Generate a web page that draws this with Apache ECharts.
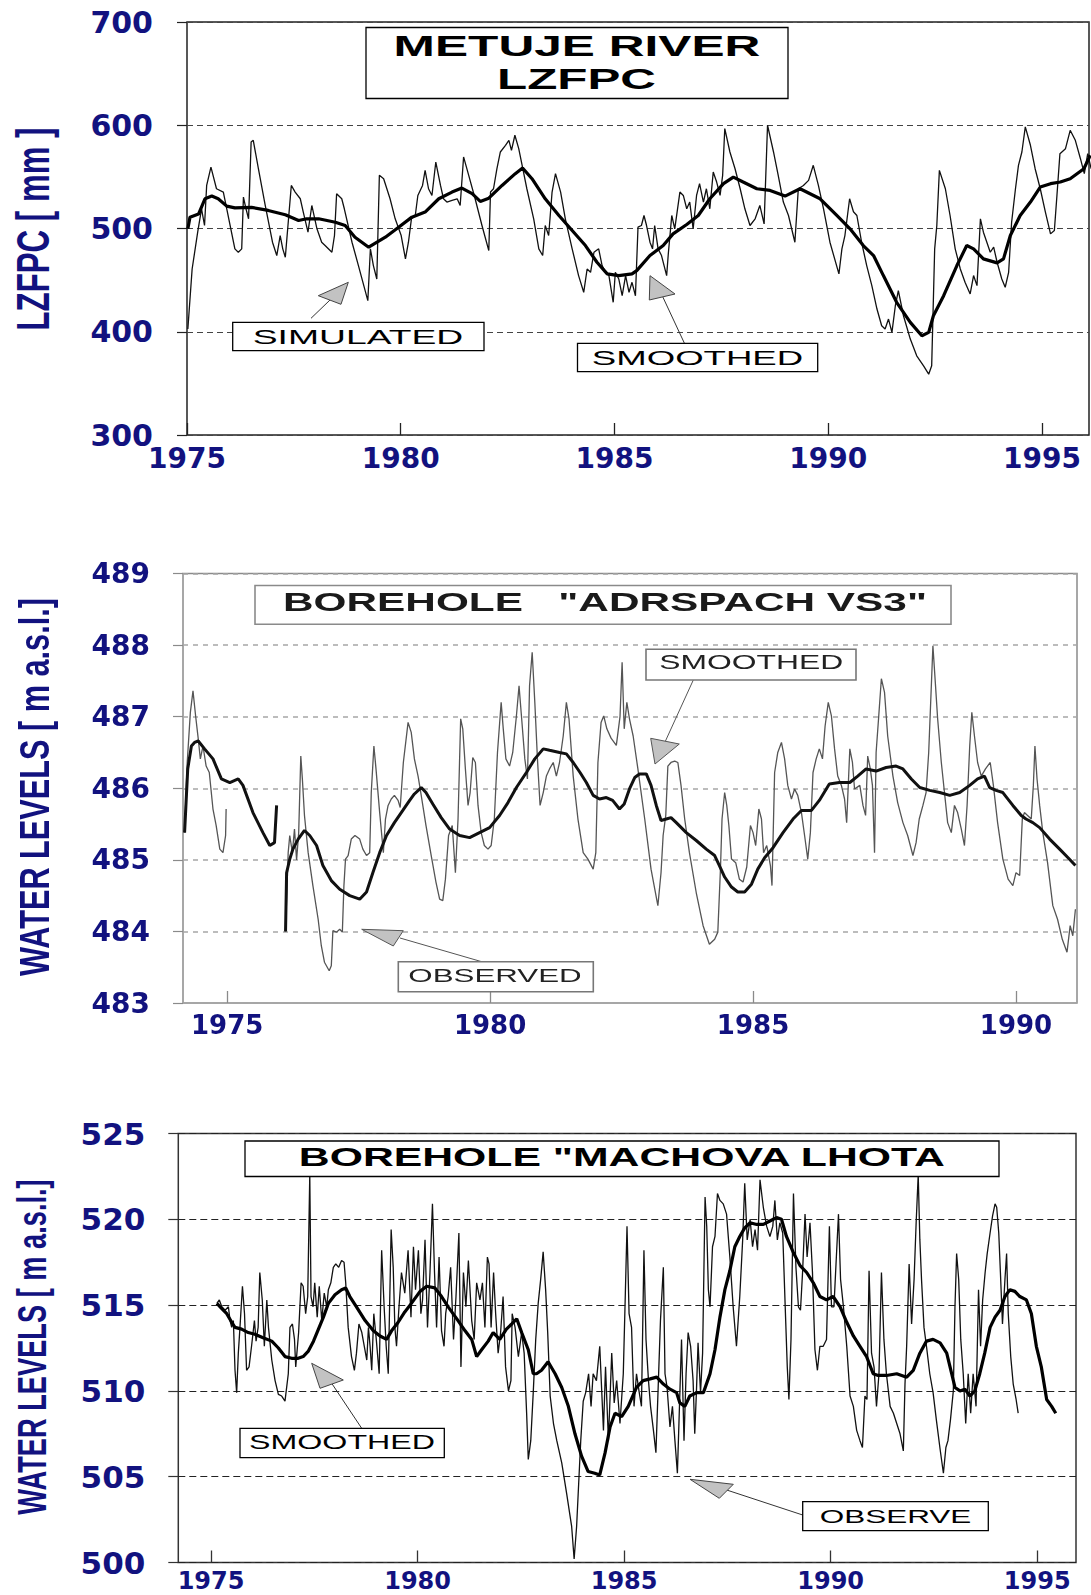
<!DOCTYPE html>
<html>
<head>
<meta charset="utf-8">
<script src="https://cdn.jsdelivr.net/npm/echarts@6/dist/echarts.min.js"></script>
<style>
  html, body { margin: 0; padding: 0; background: #fff; }
  #page { position: relative; width: 1091px; height: 1595px; overflow: hidden; background: #fff; }
  .panel { position: absolute; left: 0; width: 1091px; }
  #p1 { top: 0; height: 500px; }
  #p2 { top: 500px; height: 560px; filter: blur(0.6px); }
  #p3 { top: 1060px; height: 535px; }
</style>
</head>
<body>
<div id="page">
  <div id="p1" class="panel"></div>
  <div id="p2" class="panel"></div>
  <div id="p3" class="panel"></div>
</div>
<script>
// ---------- Metuje river: lower zone free primary storage (LZFPC), mm ----------
const metujeYTicks = [300, 400, 500, 600, 700];
const metujeXTicks = [1975, 1980, 1985, 1990, 1995];
const metujeSimulated = [
  [1975.02,402.6],[1975.12,460.8],[1975.25,496.4],[1975.34,519.1],[1975.41,502.9],[1975.46,541.7],[1975.56,559.5],[1975.69,538.5],[1975.85,535.3],[1975.93,519.1],
  [1976.12,480.3],[1976.20,477.0],[1976.28,480.3],[1976.32,530.4],[1976.38,519.1],[1976.44,509.4],[1976.50,583.8],[1976.55,585.4],[1976.67,557.9],[1976.83,522.3],
  [1977.00,486.7],[1977.10,473.8],[1977.18,493.2],[1977.24,480.3],[1977.30,472.2],[1977.44,541.7],[1977.53,535.3],[1977.65,528.8],[1977.72,515.9],[1977.83,496.4],
  [1977.92,522.3],[1978.04,499.7],[1978.15,486.7],[1978.23,483.5],[1978.39,477.0],[1978.45,493.2],[1978.50,533.7],[1978.62,528.8],[1978.68,519.1],[1978.86,486.7],
  [1979.01,464.1],[1979.23,430.1],[1979.29,480.3],[1979.36,464.1],[1979.44,451.1],[1979.50,551.5],[1979.60,548.2],[1979.75,528.8],[1979.87,509.4],[1980.01,493.2],
  [1980.11,470.6],[1980.18,486.7],[1980.25,509.4],[1980.34,512.6],[1980.40,532.0],[1980.51,541.7],[1980.57,556.3],[1980.65,538.5],[1980.73,532.0],[1980.82,564.4],
  [1980.93,541.7],[1981.00,528.8],[1981.08,525.6],[1981.20,527.2],[1981.32,528.8],[1981.39,522.3],[1981.47,569.3],[1981.59,551.5],[1981.74,528.8],[1981.90,502.9],
  [1982.06,478.6],[1982.10,535.3],[1982.17,538.5],[1982.25,557.9],[1982.33,574.1],[1982.45,580.6],[1982.53,585.4],[1982.59,575.7],[1982.67,590.3],[1982.76,577.3],
  [1982.84,561.2],[1982.95,538.5],[1983.11,509.4],[1983.23,480.3],[1983.32,473.8],[1983.38,502.9],[1983.46,493.2],[1983.54,535.3],[1983.62,553.1],[1983.74,535.3],
  [1983.85,509.4],[1984.01,480.3],[1984.16,454.4],[1984.28,438.2],[1984.36,460.8],[1984.44,457.6],[1984.52,477.0],[1984.63,480.3],[1984.71,464.1],[1984.79,457.6],
  [1984.87,454.4],[1984.97,428.5],[1985.02,457.6],[1985.10,451.1],[1985.18,434.9],[1985.26,454.4],[1985.34,438.2],[1985.41,447.9],[1985.49,434.9],[1985.55,501.3],
  [1985.63,502.9],[1985.69,512.6],[1985.75,502.9],[1985.83,486.7],[1985.89,480.3],[1985.94,502.9],[1986.02,480.3],[1986.10,473.8],[1986.22,454.4],[1986.26,476.0],
  [1986.34,512.6],[1986.41,499.7],[1986.53,535.3],[1986.61,532.0],[1986.69,519.1],[1986.76,525.6],[1986.84,499.7],[1986.92,532.0],[1986.99,543.4],[1987.08,525.6],
  [1987.15,538.5],[1987.23,519.1],[1987.31,554.7],[1987.39,545.0],[1987.47,532.0],[1987.53,551.5],[1987.58,596.8],[1987.70,574.1],[1987.82,557.9],[1987.94,538.5],
  [1988.05,519.1],[1988.17,502.9],[1988.29,509.4],[1988.40,522.3],[1988.50,504.5],[1988.58,600.0],[1988.72,574.1],[1988.83,551.5],[1988.95,525.6],[1989.07,512.6],
  [1989.22,486.7],[1989.30,538.5],[1989.42,541.7],[1989.54,546.6],[1989.65,561.2],[1989.77,541.7],[1989.89,519.1],[1990.04,486.7],[1990.25,456.0],[1990.32,480.3],
  [1990.39,493.2],[1990.50,528.8],[1990.59,516.2],[1990.67,512.6],[1990.78,486.7],[1990.90,464.1],[1991.02,444.7],[1991.14,422.0],[1991.25,405.8],[1991.33,402.6],
  [1991.41,412.3],[1991.49,399.4],[1991.57,425.2],[1991.64,439.8],[1991.76,415.5],[1991.92,392.9],[1992.07,376.7],[1992.23,367.0],[1992.35,358.9],[1992.42,367.0],
  [1992.49,480.3],[1992.54,502.9],[1992.60,556.3],[1992.74,538.5],[1992.85,512.6],[1992.97,480.3],[1993.09,460.8],[1993.20,447.9],[1993.32,436.6],[1993.40,454.4],
  [1993.48,444.7],[1993.56,509.4],[1993.63,496.4],[1993.71,486.7],[1993.79,477.0],[1993.87,481.9],[1993.95,467.3],[1994.06,451.1],[1994.14,443.1],[1994.22,457.6],
  [1994.29,506.1],[1994.38,538.5],[1994.45,561.2],[1994.53,574.1],[1994.61,598.4],[1994.73,580.6],[1994.84,557.9],[1994.96,538.5],[1995.08,515.9],[1995.20,494.8],
  [1995.29,498.1],[1995.35,532.0],[1995.42,572.5],[1995.55,577.3],[1995.66,595.1],[1995.78,585.4],[1995.90,567.6],[1995.99,553.1],[1996.07,572.5],[1996.15,557.9]
];
const metujeSmoothed = [
  [1975.02,499.7],[1975.07,511.0],[1975.27,514.0],[1975.42,528.8],[1975.58,531.4],[1975.73,528.8],[1975.93,521.7],[1976.12,520.0],[1976.51,520.4],[1976.90,517.5],
  [1977.30,513.3],[1977.61,507.8],[1977.80,509.4],[1978.08,509.4],[1978.47,506.1],[1978.70,502.9],[1978.93,491.6],[1979.25,481.9],[1979.64,491.6],[1979.95,501.3],
  [1980.26,511.0],[1980.57,515.9],[1980.89,528.8],[1981.20,535.3],[1981.43,539.2],[1981.67,533.7],[1981.86,526.2],[1982.06,529.4],[1982.37,541.7],[1982.68,553.1],
  [1982.85,558.6],[1983.07,548.2],[1983.38,528.8],[1983.70,512.6],[1984.01,498.1],[1984.32,483.5],[1984.59,467.3],[1984.83,456.0],[1985.10,454.4],[1985.41,456.0],
  [1985.52,459.2],[1985.83,473.8],[1986.14,483.5],[1986.37,494.8],[1986.69,503.9],[1986.96,512.6],[1987.23,528.8],[1987.55,543.4],[1987.78,549.8],[1988.01,545.0],
  [1988.33,538.5],[1988.64,536.9],[1988.99,531.4],[1989.34,538.5],[1989.81,528.8],[1990.20,512.6],[1990.51,499.7],[1990.82,483.5],[1991.06,473.8],[1991.29,454.4],
  [1991.60,428.5],[1991.92,409.1],[1992.19,396.1],[1992.35,399.4],[1992.46,415.5],[1992.70,434.9],[1993.01,464.1],[1993.24,483.5],[1993.40,480.3],[1993.63,470.6],
  [1993.95,466.7],[1994.10,470.6],[1994.26,493.2],[1994.49,512.6],[1994.73,525.6],[1994.96,540.1],[1995.20,543.4],[1995.43,545.0],[1995.66,548.2],[1995.98,557.9],
  [1996.13,570.9]
];

// ---------- Borehole Adrspach VS3: water levels, m a.s.l. ----------
const adrYTicks = [483, 484, 485, 486, 487, 488, 489];
const adrXTicks = [1975, 1980, 1985, 1990];
const adrObservedEarly = [
  [1974.19,485.38],[1974.24,486.36],[1974.30,487.06],[1974.35,487.36],[1974.40,487.01],[1974.45,486.69],[1974.49,486.41],[1974.54,486.59],[1974.60,486.31],[1974.66,486.22],
  [1974.73,485.71],[1974.79,485.48],[1974.86,485.15],[1974.92,485.10],[1974.97,485.34],[1974.98,485.71]
];
const adrSmoothedEarly = [
  [1974.19,485.38],[1974.25,486.27],[1974.32,486.59],[1974.38,486.64],[1974.45,486.66],[1974.57,486.55],[1974.73,486.41],[1974.89,486.13],[1975.05,486.08],[1975.21,486.13],
  [1975.30,486.04],[1975.49,485.66],[1975.68,485.38],[1975.81,485.20],[1975.90,485.24],[1975.94,485.76]
];
const adrObservedLate = [
  [1976.11,484.00],[1976.16,485.10],[1976.19,485.34],[1976.24,485.10],[1976.28,485.43],[1976.32,485.00],[1976.36,485.38],[1976.40,486.45],[1976.43,486.13],[1976.47,485.62],
  [1976.54,485.10],[1976.63,484.64],[1976.73,484.17],[1976.79,483.80],[1976.85,483.57],[1976.94,483.45],[1976.98,483.52],[1977.01,484.01],[1977.08,483.99],[1977.14,484.03],
  [1977.19,483.99],[1977.22,484.64],[1977.25,485.01],[1977.30,485.06],[1977.36,485.29],[1977.43,485.34],[1977.52,485.29],[1977.58,485.15],[1977.65,485.06],[1977.71,485.10],
  [1977.74,485.94],[1977.79,486.59],[1977.83,486.27],[1977.90,485.66],[1977.97,485.10],[1978.01,485.57],[1978.06,485.76],[1978.12,485.85],[1978.18,485.90],[1978.25,485.83],
  [1978.29,485.73],[1978.35,486.36],[1978.44,486.92],[1978.50,486.78],[1978.56,486.41],[1978.63,486.17],[1978.69,485.90],[1978.78,485.48],[1978.88,485.06],[1978.97,484.69],
  [1979.04,484.45],[1979.10,484.43],[1979.15,484.73],[1979.21,485.34],[1979.28,485.48],[1979.34,484.82],[1979.39,485.57],[1979.44,486.97],[1979.48,486.83],[1979.53,486.27],
  [1979.58,485.76],[1979.62,485.94],[1979.67,486.43],[1979.72,486.36],[1979.77,485.76],[1979.83,485.38],[1979.89,485.20],[1979.96,485.15],[1980.02,485.20],[1980.08,485.57],
  [1980.14,486.50],[1980.21,487.20],[1980.25,486.83],[1980.30,486.41],[1980.37,486.31],[1980.43,486.50],[1980.50,487.01],[1980.55,487.43],[1980.60,486.97],[1980.66,486.41],
  [1980.71,486.13],[1980.75,487.43],[1980.80,487.90],[1980.85,487.20],[1980.90,486.41],[1980.95,485.76],[1981.01,485.94],[1981.07,486.17],[1981.13,486.27],[1981.20,486.36],
  [1981.26,486.17],[1981.32,486.36],[1981.39,486.73],[1981.45,487.20],[1981.50,486.97],[1981.58,486.17],[1981.67,485.57],[1981.77,485.10],[1981.86,485.01],[1981.96,484.87],
  [1982.01,485.10],[1982.05,486.36],[1982.11,486.92],[1982.16,487.01],[1982.22,486.83],[1982.30,486.70],[1982.40,486.60],[1982.47,487.00],[1982.51,487.76],[1982.55,486.83],
  [1982.60,487.20],[1982.65,486.97],[1982.72,486.73],[1982.81,486.27],[1982.94,485.57],[1983.06,484.87],[1983.19,484.36],[1983.25,484.82],[1983.29,485.34],[1983.34,485.62],
  [1983.38,486.31],[1983.44,486.36],[1983.51,486.38],[1983.57,486.36],[1983.63,486.04],[1983.70,485.57],[1983.79,485.10],[1983.92,484.54],[1984.05,484.08],[1984.17,483.82],
  [1984.27,483.89],[1984.33,483.99],[1984.38,484.87],[1984.41,485.57],[1984.46,485.94],[1984.50,485.76],[1984.54,485.48],[1984.59,485.01],[1984.67,484.96],[1984.74,484.73],
  [1984.81,484.69],[1984.88,484.90],[1984.95,485.48],[1985.00,485.38],[1985.05,485.20],[1985.11,485.71],[1985.16,485.57],[1985.20,485.10],[1985.26,485.20],[1985.33,484.92],
  [1985.36,484.64],[1985.41,486.22],[1985.47,486.50],[1985.54,486.64],[1985.60,486.41],[1985.66,486.04],[1985.73,485.85],[1985.79,485.99],[1985.85,485.90],[1985.92,485.66],
  [1985.98,485.34],[1986.04,485.01],[1986.09,485.38],[1986.14,486.22],[1986.20,486.41],[1986.26,486.55],[1986.32,486.41],[1986.37,486.87],[1986.43,487.20],[1986.49,487.01],
  [1986.55,486.55],[1986.61,486.17],[1986.68,486.04],[1986.74,485.85],[1986.78,485.52],[1986.84,486.55],[1986.89,486.36],[1986.93,485.99],[1987.03,486.04],[1987.09,485.76],
  [1987.14,485.62],[1987.18,486.45],[1987.23,486.27],[1987.27,486.04],[1987.31,485.10],[1987.34,486.50],[1987.39,487.01],[1987.44,487.53],[1987.50,487.34],[1987.56,486.73],
  [1987.66,486.17],[1987.75,485.80],[1987.85,485.52],[1987.94,485.34],[1988.04,485.06],[1988.10,485.24],[1988.16,485.57],[1988.23,485.76],[1988.29,485.94],[1988.34,486.50],
  [1988.39,487.43],[1988.42,487.99],[1988.47,487.43],[1988.51,486.97],[1988.58,486.36],[1988.64,485.94],[1988.70,485.52],[1988.77,485.38],[1988.83,485.76],[1988.89,485.66],
  [1988.96,485.43],[1989.02,485.20],[1989.07,485.76],[1989.12,486.59],[1989.16,487.06],[1989.21,486.73],[1989.27,486.36],[1989.34,486.17],[1989.42,486.27],[1989.51,486.36],
  [1989.57,486.04],[1989.65,485.52],[1989.75,485.01],[1989.85,484.73],[1989.94,484.64],[1990.00,484.82],[1990.07,484.78],[1990.12,485.57],[1990.16,485.66],[1990.22,485.62],
  [1990.29,485.57],[1990.33,486.04],[1990.36,486.59],[1990.40,486.13],[1990.45,485.76],[1990.51,485.38],[1990.60,484.96],[1990.70,484.36],[1990.79,484.17],[1990.88,483.89],
  [1990.97,483.71],[1991.03,484.08],[1991.08,483.94],[1991.13,484.31]
];
const adrSmoothedLate = [
  [1976.11,484.00],[1976.13,484.82],[1976.19,485.01],[1976.25,485.15],[1976.35,485.29],[1976.47,485.41],[1976.57,485.34],[1976.70,485.20],[1976.82,484.92],[1976.98,484.71],
  [1977.14,484.59],[1977.33,484.50],[1977.52,484.45],[1977.65,484.55],[1977.77,484.82],[1977.90,485.10],[1978.03,485.34],[1978.18,485.52],[1978.34,485.69],[1978.47,485.83],
  [1978.56,485.92],[1978.69,486.01],[1978.78,485.94],[1978.91,485.78],[1979.07,485.59],[1979.23,485.43],[1979.42,485.34],[1979.61,485.31],[1979.80,485.38],[1979.99,485.45],
  [1980.18,485.62],[1980.34,485.80],[1980.50,486.01],[1980.69,486.22],[1980.85,486.41],[1981.01,486.55],[1981.13,486.53],[1981.32,486.50],[1981.45,486.48],[1981.58,486.36],
  [1981.71,486.22],[1981.83,486.08],[1981.96,485.90],[1982.08,485.85],[1982.21,485.87],[1982.33,485.83],[1982.46,485.71],[1982.55,485.78],[1982.65,485.99],[1982.75,486.15],
  [1982.84,486.20],[1982.97,486.20],[1983.06,486.04],[1983.16,485.76],[1983.25,485.55],[1983.35,485.57],[1983.44,485.59],[1983.54,485.52],[1983.73,485.38],[1983.92,485.27],
  [1984.11,485.15],[1984.27,485.06],[1984.36,484.92],[1984.46,484.76],[1984.59,484.62],[1984.71,484.55],[1984.84,484.55],[1984.97,484.66],[1985.09,484.87],[1985.22,485.03],
  [1985.38,485.17],[1985.57,485.38],[1985.76,485.57],[1985.92,485.69],[1986.11,485.69],[1986.26,485.83],[1986.45,486.06],[1986.64,486.08],[1986.84,486.08],[1986.99,486.17],
  [1987.15,486.27],[1987.34,486.24],[1987.53,486.29],[1987.72,486.31],[1987.85,486.27],[1988.01,486.13],[1988.17,486.01],[1988.36,485.97],[1988.55,485.94],[1988.74,485.90],
  [1988.93,485.94],[1989.12,486.04],[1989.27,486.13],[1989.40,486.17],[1989.50,486.01],[1989.62,485.97],[1989.75,485.94],[1989.94,485.76],[1990.10,485.62],[1990.19,485.57],
  [1990.32,485.52],[1990.45,485.45],[1990.64,485.29],[1990.83,485.15],[1990.99,485.03],[1991.13,484.92]
];

// ---------- Borehole Machova Lhota: water levels, m a.s.l. ----------
const machYTicks = [500, 505, 510, 515, 520, 525];
const machXTicks = [1975, 1980, 1985, 1990, 1995];
const machObserved = [
  [1975.14,515.1],[1975.20,515.3],[1975.26,514.9],[1975.34,514.7],[1975.42,514.9],[1975.46,514.1],[1975.50,513.7],[1975.54,514.1],[1975.58,511.2],[1975.62,509.9],
  [1975.66,512.2],[1975.70,513.7],[1975.76,516.1],[1975.81,514.5],[1975.86,511.2],[1975.92,511.4],[1975.98,512.6],[1976.05,514.1],[1976.09,512.9],[1976.14,513.7],
  [1976.18,516.9],[1976.24,515.3],[1976.29,512.6],[1976.35,515.3],[1976.39,513.7],[1976.47,511.8],[1976.55,510.6],[1976.63,509.8],[1976.71,509.7],[1976.79,509.4],
  [1976.87,511.0],[1976.91,513.7],[1976.97,513.9],[1977.02,513.0],[1977.05,511.4],[1977.12,513.4],[1977.18,516.3],[1977.23,516.1],[1977.29,514.5],[1977.34,515.5],
  [1977.39,522.6],[1977.42,515.5],[1977.47,514.9],[1977.51,516.3],[1977.57,514.3],[1977.62,516.1],[1977.68,514.1],[1977.74,515.7],[1977.80,514.9],[1977.84,515.9],
  [1977.90,516.3],[1977.96,517.2],[1978.02,517.4],[1978.09,517.2],[1978.16,517.6],[1978.22,517.5],[1978.26,516.3],[1978.32,513.7],[1978.40,512.0],[1978.47,511.2],
  [1978.52,512.2],[1978.58,513.9],[1978.65,513.4],[1978.71,512.6],[1978.77,511.8],[1978.81,513.7],[1978.85,512.6],[1978.89,511.2],[1978.94,514.5],[1979.00,513.0],
  [1979.07,511.0],[1979.13,518.2],[1979.19,514.9],[1979.24,512.6],[1979.29,511.0],[1979.36,519.4],[1979.41,517.2],[1979.45,513.7],[1979.49,512.6],[1979.55,514.9],
  [1979.61,516.9],[1979.69,515.7],[1979.77,518.2],[1979.84,514.3],[1979.90,518.4],[1979.95,515.9],[1980.02,518.2],[1980.08,514.5],[1980.12,515.3],[1980.18,518.8],
  [1980.24,513.7],[1980.30,516.9],[1980.36,520.9],[1980.41,516.9],[1980.46,513.7],[1980.52,517.8],[1980.58,513.5],[1980.64,512.6],[1980.68,514.5],[1980.74,515.5],
  [1980.80,517.2],[1980.87,513.0],[1980.93,515.5],[1981.00,519.2],[1981.05,511.4],[1981.11,516.9],[1981.17,514.9],[1981.23,517.6],[1981.31,514.1],[1981.37,513.0],
  [1981.43,516.3],[1981.51,515.3],[1981.57,516.3],[1981.63,513.7],[1981.69,517.8],[1981.73,517.4],[1981.78,513.7],[1981.84,516.9],[1981.89,514.5],[1981.95,512.2],
  [1982.01,513.4],[1982.07,515.5],[1982.13,511.4],[1982.20,510.0],[1982.26,510.6],[1982.29,514.5],[1982.36,513.7],[1982.44,512.0],[1982.52,513.4],[1982.58,512.2],
  [1982.64,508.7],[1982.68,506.0],[1982.74,507.1],[1982.80,509.9],[1982.86,513.0],[1982.92,515.1],[1982.98,516.5],[1983.04,518.1],[1983.10,515.9],[1983.15,513.4],
  [1983.21,509.7],[1983.29,508.1],[1983.37,507.1],[1983.49,505.8],[1983.61,504.0],[1983.73,502.1],[1983.79,500.2],[1983.85,502.1],[1983.90,504.6],[1983.95,507.1],
  [1984.01,509.4],[1984.07,509.9],[1984.14,511.0],[1984.20,509.1],[1984.25,511.0],[1984.33,510.6],[1984.41,512.6],[1984.50,507.7],[1984.55,511.4],[1984.62,507.1],
  [1984.70,512.2],[1984.76,509.3],[1984.82,510.6],[1984.90,508.1],[1984.98,511.0],[1985.03,515.7],[1985.07,519.6],[1985.12,514.5],[1985.18,513.7],[1985.24,509.1],
  [1985.30,511.0],[1985.36,510.0],[1985.42,509.1],[1985.48,518.2],[1985.53,513.0],[1985.59,510.6],[1985.64,509.1],[1985.71,507.7],[1985.77,506.4],[1985.83,510.6],
  [1985.88,514.1],[1985.95,517.2],[1985.99,511.0],[1986.04,510.2],[1986.11,507.9],[1986.17,509.1],[1986.23,507.1],[1986.29,505.2],[1986.34,509.1],[1986.39,513.0],
  [1986.45,507.1],[1986.50,511.0],[1986.55,513.4],[1986.61,512.6],[1986.67,510.6],[1986.71,507.5],[1986.75,509.9],[1986.79,512.8],[1986.85,509.9],[1986.90,512.2],
  [1986.96,521.3],[1987.00,519.6],[1987.04,515.9],[1987.08,514.9],[1987.14,518.4],[1987.20,519.0],[1987.26,521.5],[1987.32,521.1],[1987.40,520.9],[1987.48,520.3],
  [1987.56,517.8],[1987.64,514.9],[1987.72,512.6],[1987.80,515.5],[1987.87,518.8],[1987.92,522.1],[1987.98,518.8],[1988.05,520.0],[1988.11,518.4],[1988.17,519.4],
  [1988.23,518.2],[1988.29,522.3],[1988.37,520.7],[1988.45,519.6],[1988.53,519.0],[1988.60,519.6],[1988.65,521.1],[1988.71,518.8],[1988.77,519.8],[1988.84,519.2],
  [1988.90,514.9],[1988.95,511.4],[1988.99,509.5],[1989.04,513.0],[1989.10,521.5],[1989.16,517.2],[1989.22,514.9],[1989.27,514.7],[1989.32,516.9],[1989.38,520.3],
  [1989.43,517.8],[1989.50,519.8],[1989.56,516.9],[1989.62,512.4],[1989.68,511.2],[1989.74,512.6],[1989.82,512.6],[1989.90,513.0],[1989.97,519.6],[1990.02,514.9],
  [1990.08,514.9],[1990.13,517.4],[1990.19,520.3],[1990.24,516.5],[1990.31,514.9],[1990.39,512.6],[1990.47,509.7],[1990.55,509.1],[1990.63,507.7],[1990.71,507.1],
  [1990.77,506.7],[1990.83,509.7],[1990.88,509.5],[1990.93,517.0],[1990.99,512.2],[1991.05,511.4],[1991.11,509.1],[1991.17,511.0],[1991.23,516.9],[1991.29,513.0],
  [1991.35,511.0],[1991.44,509.1],[1991.52,508.7],[1991.60,508.1],[1991.68,507.5],[1991.76,506.5],[1991.80,510.4],[1991.84,512.6],[1991.90,517.4],[1991.96,513.9],
  [1992.02,516.5],[1992.07,519.8],[1992.12,522.6],[1992.16,518.8],[1992.20,516.5],[1992.26,513.7],[1992.32,512.6],[1992.40,511.0],[1992.48,509.9],[1992.56,508.3],
  [1992.65,506.6],[1992.73,505.2],[1992.79,506.7],[1992.84,507.1],[1992.90,508.3],[1992.97,510.0],[1993.01,514.9],[1993.05,518.0],[1993.10,516.5],[1993.15,513.0],
  [1993.21,511.0],[1993.27,508.1],[1993.33,511.0],[1993.39,508.7],[1993.45,511.0],[1993.52,509.1],[1993.58,515.9],[1993.63,512.6],[1993.68,515.3],[1993.74,516.9],
  [1993.79,518.0],[1993.86,519.2],[1993.92,520.2],[1993.98,520.9],[1994.02,520.7],[1994.07,519.2],[1994.11,516.9],[1994.16,513.9],[1994.22,516.5],[1994.26,518.0],
  [1994.30,514.5],[1994.36,512.0],[1994.42,510.4],[1994.49,509.5],[1994.54,508.7]
];
const machSmoothed = [
  [1975.14,515.1],[1975.26,514.8],[1975.38,514.5],[1975.50,514.0],[1975.58,513.7],[1975.74,513.6],[1975.90,513.4],[1976.06,513.3],[1976.26,513.1],[1976.47,512.9],
  [1976.63,512.5],[1976.79,512.0],[1976.95,511.9],[1977.11,511.9],[1977.23,512.0],[1977.35,512.3],[1977.48,512.9],[1977.60,513.6],[1977.72,514.3],[1977.84,515.1],
  [1978.00,515.6],[1978.16,515.9],[1978.26,516.0],[1978.36,515.5],[1978.52,514.9],[1978.73,514.1],[1978.93,513.5],[1979.09,513.2],[1979.25,513.0],[1979.37,513.5],
  [1979.53,514.0],[1979.69,514.6],[1979.85,515.1],[1980.06,515.8],[1980.22,516.1],[1980.42,516.0],[1980.58,515.5],[1980.74,514.9],[1980.95,514.2],[1981.15,513.5],
  [1981.31,513.0],[1981.43,512.0],[1981.55,512.4],[1981.71,512.9],[1981.83,513.4],[1981.99,513.0],[1982.15,513.6],[1982.28,513.9],[1982.40,514.2],[1982.52,513.4],
  [1982.68,512.4],[1982.80,511.0],[1982.88,511.0],[1983.00,511.2],[1983.16,511.7],[1983.33,511.0],[1983.49,510.2],[1983.65,509.1],[1983.81,507.5],[1983.97,506.2],
  [1984.13,505.3],[1984.29,505.2],[1984.41,505.1],[1984.54,506.4],[1984.66,507.9],[1984.78,508.7],[1984.94,508.5],[1985.10,509.1],[1985.30,510.2],[1985.46,510.6],
  [1985.63,510.7],[1985.79,510.8],[1985.95,510.4],[1986.11,510.1],[1986.27,509.9],[1986.35,509.3],[1986.47,509.1],[1986.59,509.7],[1986.76,509.9],[1986.92,509.9],
  [1987.08,511.0],[1987.20,512.4],[1987.32,514.3],[1987.44,515.9],[1987.56,517.0],[1987.68,518.4],[1987.80,519.0],[1987.92,519.5],[1988.05,519.8],[1988.21,519.7],
  [1988.37,519.7],[1988.53,519.9],[1988.69,520.1],[1988.81,520.0],[1988.93,519.0],[1989.09,518.1],[1989.26,517.3],[1989.42,516.9],[1989.58,516.3],[1989.74,515.5],
  [1989.90,515.3],[1990.06,515.5],[1990.23,514.9],[1990.39,514.0],[1990.55,513.2],[1990.71,512.6],[1990.87,512.0],[1991.03,511.0],[1991.15,510.9],[1991.35,510.9],
  [1991.60,511.0],[1991.84,510.8],[1992.00,511.2],[1992.16,512.2],[1992.32,512.9],[1992.48,513.0],[1992.65,512.8],[1992.81,512.2],[1992.93,511.0],[1993.01,510.2],
  [1993.13,510.0],[1993.25,510.1],[1993.37,509.7],[1993.49,510.0],[1993.61,511.0],[1993.73,512.2],[1993.86,513.7],[1993.98,514.3],[1994.10,514.7],[1994.22,515.5],
  [1994.34,515.9],[1994.46,515.8],[1994.58,515.5],[1994.74,515.3],[1994.86,514.5],[1994.98,512.6],[1995.10,511.4],[1995.23,509.5],[1995.35,509.1],[1995.45,508.7]
];

// ---------- drawing helpers ----------
const NAVY = '#12127f';
const measureCtx = document.createElement('canvas').getContext('2d');
function textWidth(str, font) { measureCtx.font = font; return measureCtx.measureText(str).width; }

function textStyle(str, font, fill) {
  return { text: str, font: font, fill: fill, align: 'center', verticalAlign: 'middle',
           textAlign: 'center', textVerticalAlign: 'middle' };
}
// horizontal caption stretched to the requested width
function wideText(str, cx, cy, font, width, fill) {
  return { type: 'text', x: cx, y: cy, z: 102, scaleX: width / textWidth(str, font),
           style: textStyle(str, font, fill || '#000') };
}
function frame(x, y, w, h, stroke, lw) {
  return { type: 'rect', z: 100, shape: { x: x, y: y, width: w, height: h },
           style: { fill: '#fff', stroke: stroke || '#000', lineWidth: lw || 1.3 } };
}
function pointer(from, to, tri, stroke) {
  return [
    { type: 'line', z: 100, shape: { x1: from[0], y1: from[1], x2: to[0], y2: to[1] },
      style: { stroke: stroke || '#333', lineWidth: 1 } },
    { type: 'polygon', z: 101, shape: { points: tri },
      style: { fill: '#c2c2c2', stroke: stroke || '#444', lineWidth: 1 } }
  ];
}
// rotated axis title: length along the axis, thickness across it
function axisTitle(str, cx, cy, length, thickness) {
  const font = 'bold 30px "Liberation Sans", Arial, sans-serif';
  return { type: 'text', x: cx, y: cy, z: 102, rotation: Math.PI / 2,
           scaleX: length / textWidth(str, font), scaleY: thickness / (0.716 * 30),
           style: textStyle(str, font, NAVY) };
}
function lineSeries(data, width, color, z) {
  return { type: 'line', data: data, showSymbol: false, symbol: 'none', silent: true,
           clip: true, connectNulls: false, z: z, lineStyle: { width: width, color: color } };
}
const plainNumber = (v) => String(Math.round(v));

function panelOption(p) {
  return {
    animation: false,
    grid: { left: p.grid[0], top: p.grid[1], width: p.grid[2], height: p.grid[3], show: true,
            borderColor: p.frameColor, borderWidth: 1.5, backgroundColor: 'transparent' },
    xAxis: {
      type: 'value', min: p.xMin, max: p.xMax,
      axisLine: { show: false }, splitLine: { show: false },
      axisTick: { show: true, inside: true, length: 12, customValues: p.xTicks,
                  lineStyle: { color: p.frameColor, width: 1.3 } },
      axisLabel: { customValues: p.xTicks, formatter: plainNumber, margin: p.xMargin, color: NAVY,
                   fontFamily: 'DejaVu Sans', fontWeight: 'bold', fontSize: p.xFont }
    },
    yAxis: {
      type: 'value', min: p.yTicks[0], max: p.yTicks[p.yTicks.length - 1],
      interval: p.yTicks[1] - p.yTicks[0],
      axisLine: { show: false },
      axisTick: { show: true, length: 10, lineStyle: { color: p.frameColor, width: 1.2 } },
      axisLabel: { formatter: plainNumber, margin: p.yMargin, color: NAVY, fontFamily: 'DejaVu Sans',
                   fontWeight: 'bold', fontSize: p.yFont },
      splitLine: { show: true, lineStyle: { type: p.dash, color: p.gridColor, width: p.gridWidth } }
    },
    series: p.series,
    graphic: { elements: p.graphics }
  };
}

// ---------- panel 1: Metuje river LZFPC ----------
const chart1 = echarts.init(document.getElementById('p1'), null, { renderer: 'svg' });
chart1.setOption(panelOption({
  grid: [187, 22, 902, 413], frameColor: '#222', gridColor: '#444', gridWidth: 1, dash: [6, 4],
  xMin: 1975, xMax: 1996.1, xTicks: metujeXTicks, xMargin: 9, xFont: 28,
  yTicks: metujeYTicks, yMargin: 34, yFont: 30,
  series: [
    lineSeries(metujeSimulated, 1.3, '#111', 2),
    lineSeries(metujeSmoothed, 3.2, '#000', 3)
  ],
  graphics: [
    axisTitle('LZFPC [ mm ]', 33, 229, 203, 33),
    frame(366, 27.5, 422, 71),
    wideText('METUJE RIVER', 577, 46, 'bold 30px "Liberation Sans", Arial, sans-serif', 367),
    wideText('LZFPC', 576.5, 79, 'bold 30px "Liberation Sans", Arial, sans-serif', 159),
    ...pointer([311, 318.3], [330, 300], [[318.3, 295.7], [348.3, 282.3], [341, 304.3]]),
    frame(232.7, 322.3, 251.3, 28.4),
    wideText('SIMULATED', 358, 336.7, '21px "Liberation Sans", Arial, sans-serif', 210.6),
    ...pointer([684.3, 343], [662.7, 296.7], [[650, 275.7], [675, 294], [649.3, 300]]),
    frame(577.5, 343.3, 240.2, 28.4),
    wideText('SMOOTHED', 697.5, 357.5, '21px "Liberation Sans", Arial, sans-serif', 211.5)
  ]
}));

// ---------- panel 2: borehole Adrspach VS3 ----------
const chart2 = echarts.init(document.getElementById('p2'), null, { renderer: 'svg' });
chart2.setOption(panelOption({
  grid: [183, 73.5, 894, 429.5], frameColor: '#8a8a8a', gridColor: '#a6a6a6', gridWidth: 1.6, dash: [5, 5],
  xMin: 1974.16, xMax: 1991.16, xTicks: adrXTicks, xMargin: 9, xFont: 26,
  yTicks: adrYTicks, yMargin: 33, yFont: 28,
  series: [
    lineSeries(adrObservedEarly, 1.3, '#555', 2),
    lineSeries(adrObservedLate, 1.3, '#555', 2),
    lineSeries(adrSmoothedEarly, 3, '#111', 3),
    lineSeries(adrSmoothedLate, 3, '#111', 3)
  ],
  graphics: [
    axisTitle('WATER LEVELS [ m a.s.l.]', 34, 287, 378, 31),
    frame(255, 85.5, 696, 38.8, '#8a8a8a', 1.6),
    wideText('BOREHOLE   "ADRSPACH VS3"', 605, 102.5, 'bold 25px "Liberation Sans", Arial, sans-serif', 644, '#1a1a1a'),
    ...pointer([693.3, 180], [665, 242], [[650.7, 238.3], [679.3, 244], [655, 264]], '#555'),
    frame(646, 149.3, 210, 30.7, '#777', 1.6),
    wideText('SMOOTHED', 751.3, 162.2, '20px "Liberation Sans", Arial, sans-serif', 184, '#222'),
    ...pointer([481.7, 461.7], [400, 438], [[361.7, 429.3], [403.3, 430.7], [393.3, 446]], '#555'),
    frame(398.3, 461.7, 195, 30, '#777', 1.6),
    wideText('OBSERVED', 495, 475, '19px "Liberation Sans", Arial, sans-serif', 173.4, '#222')
  ]
}));

// ---------- panel 3: borehole Machova Lhota ----------
const chart3 = echarts.init(document.getElementById('p3'), null, { renderer: 'svg' });
chart3.setOption(panelOption({
  grid: [178.3, 73.5, 897.7, 429], frameColor: '#333', gridColor: '#222', gridWidth: 1, dash: [7, 4],
  xMin: 1974.207, xMax: 1995.94, xTicks: machXTicks, xMargin: 6, xFont: 24,
  yTicks: machYTicks, yMargin: 33, yFont: 31,
  series: [
    lineSeries(machObserved, 1.3, '#111', 2),
    lineSeries(machSmoothed, 3.2, '#000', 3)
  ],
  graphics: [
    axisTitle('WATER LEVELS [ m a.s.l.]', 32, 287, 335.5, 29),
    frame(245, 81, 754, 35.5),
    wideText('BOREHOLE "MACHOVA LHOTA', 621.8, 97.5, 'bold 25px "Liberation Sans", Arial, sans-serif', 647.6),
    ...pointer([361.7, 368.3], [331.7, 323.3], [[311.7, 303.3], [343.3, 320], [320, 328.3]]),
    frame(240, 368.3, 204.3, 29.4),
    wideText('SMOOTHED', 342, 382.3, '20px "Liberation Sans", Arial, sans-serif', 186),
    ...pointer([802.7, 455], [726.7, 430], [[690, 419.3], [733.3, 424.3], [719.3, 438.3]]),
    frame(802.7, 441.7, 185.6, 29),
    wideText('OBSERVE', 895.5, 456, '19px "Liberation Sans", Arial, sans-serif', 151.7)
  ]
}));
</script>
</body>
</html>
